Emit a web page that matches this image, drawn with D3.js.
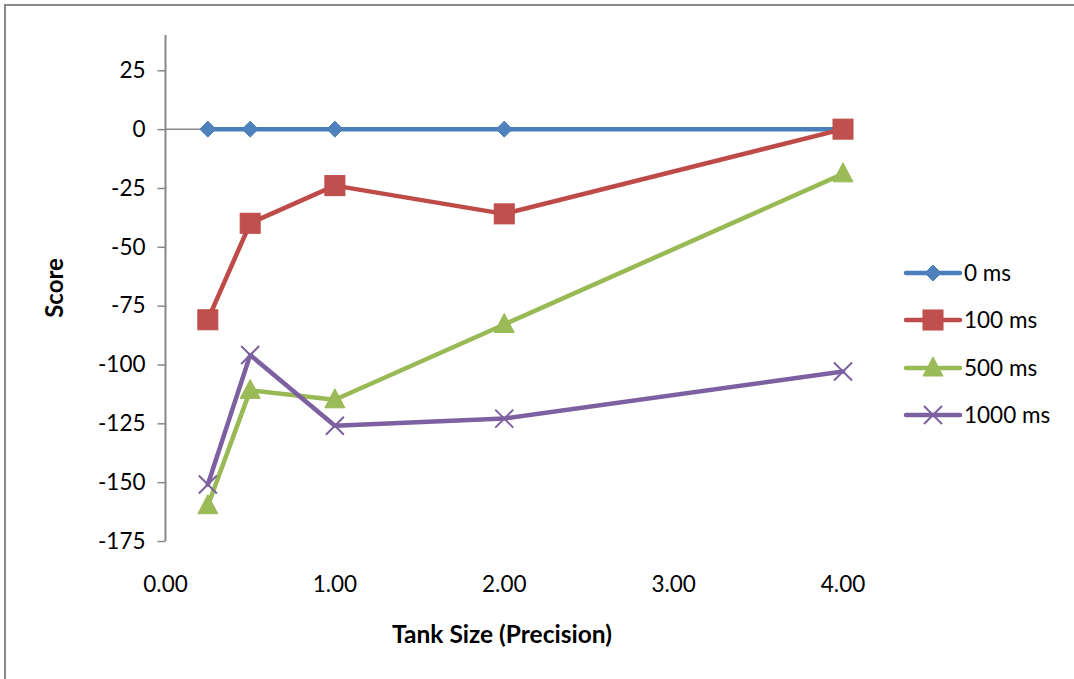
<!DOCTYPE html>
<html><head><meta charset="utf-8">
<script src="https://cdn.jsdelivr.net/npm/d3@7/dist/d3.min.js"></script>
<style>body{margin:0;background:#fff}svg{display:block}text{font-family:Lato,"Open Sans",sans-serif}</style>
</head><body>
<svg id="c" width="1074" height="679"></svg>
<script>
const xValues = [0.25, 0.5, 1, 2, 4];
const seriesNames = ["0 ms", "100 ms", "500 ms", "1000 ms"];
const s0 = [0, 0, 0, 0, 0];
const s100 = [-81, -40, -24, -36, 0];
const s500 = [-160, -111, -115, -83, -19];
const s1000 = [-151, -96, -126, -123, -103];
const yTicks = [25, 0, -25, -50, -75, -100, -125, -150, -175];
const xTicks = [0, 1, 2, 3, 4];
const colors = ["#4A7EBB", "#BE4B48", "#98B954", "#7D60A0"];
const markerFill = ["#4F81BD", "#C0504D", "#9BBB59", "#8064A2"];
const markers = ["diamond", "square", "triangle", "cross"];

const svg = d3.select("#c");
svg.append("line").attr("x1",4).attr("x2",1074).attr("y1",5).attr("y2",5).attr("stroke","#888").attr("stroke-width",2);
svg.append("line").attr("x1",5).attr("x2",5).attr("y1",4).attr("y2",679).attr("stroke","#888").attr("stroke-width",2);

const x = d3.scaleLinear().domain([0,4]).range([165.5,843]);
const y = d3.scaleLinear().domain([-175,40]).range([541,35]);

const yAxis = svg.append("g").attr("transform","translate(165.5,0)")
  .call(d3.axisLeft(y).tickValues(yTicks).tickSize(8).tickPadding(12).tickFormat(d=>String(d)));
yAxis.select(".domain").attr("stroke","#888").attr("stroke-width",2).attr("d","M0,35V541");
yAxis.selectAll(".tick line").attr("stroke","#888").attr("stroke-width",1.5);
yAxis.selectAll(".tick text").attr("font-size",22.5).attr("fill","#000").attr("font-family","Lato,sans-serif");

svg.append("line").attr("x1",x(0)).attr("x2",x(4)).attr("y1",y(0)).attr("y2",y(0)).attr("stroke","#888").attr("stroke-width",1.5);

svg.append("g").selectAll("text").data(xTicks).join("text")
  .attr("x",d=>x(d)).attr("y",592).attr("text-anchor","middle").attr("font-size",22.5).attr("fill","#000")
  .text(d=>d3.format(".2f")(d));

svg.append("text").attr("x",502).attr("y",643).attr("text-anchor","middle").attr("font-size",24.5).attr("font-weight","bold").text("Tank Size (Precision)");
svg.append("text").attr("transform","translate(63,288) rotate(-90)").attr("text-anchor","middle").attr("font-size",24).attr("font-weight","bold").text("Score");

function drawMarker(g, type, cx, cy, i){
  if(type==="diamond"){
    g.append("path").attr("d",`M${cx},${cy-8}L${cx+8},${cy}L${cx},${cy+8}L${cx-8},${cy}Z`).attr("fill",markerFill[i]).attr("stroke",colors[i]).attr("stroke-width",1);
  } else if(type==="square"){
    g.append("rect").attr("x",cx-10).attr("y",cy-10).attr("width",20).attr("height",20).attr("fill",markerFill[i]).attr("stroke",colors[i]).attr("stroke-width",1);
  } else if(type==="triangle"){
    g.append("path").attr("d",`M${cx},${cy-11}L${cx+10},${cy+8}L${cx-10},${cy+8}Z`).attr("fill",markerFill[i]).attr("stroke",colors[i]).attr("stroke-width",1);
  } else {
    g.append("path").attr("d",`M${cx-9},${cy-9}L${cx+9},${cy+9}M${cx+9},${cy-9}L${cx-9},${cy+9}`).attr("stroke",colors[i]).attr("stroke-width",2).attr("fill","none");
  }
}

const allSeries = [s0, s100, s500, s1000];
const line = d3.line().x((d,j)=>x(xValues[j])).y(d=>y(d));
allSeries.forEach((s,i)=>{
  const g = svg.append("g");
  g.append("path").datum(s).attr("d",line).attr("fill","none").attr("stroke",colors[i]).attr("stroke-width",4.5).attr("stroke-linejoin","round").attr("stroke-linecap","round");
  s.forEach((v,j)=>drawMarker(g, markers[i], x(xValues[j]), y(v), i));
});

const legendY = [273, 320, 368, 415];
seriesNames.forEach((n,i)=>{
  const g = svg.append("g");
  g.append("line").attr("x1",906).attr("x2",960).attr("y1",legendY[i]).attr("y2",legendY[i]).attr("stroke",colors[i]).attr("stroke-width",4.5).attr("stroke-linecap","round");
  drawMarker(g, markers[i], 933, legendY[i], i);
  g.append("text").attr("x",964).attr("y",legendY[i]+8).attr("font-size",22.5).attr("fill","#000").text(n);
});
</script>
</body></html>
